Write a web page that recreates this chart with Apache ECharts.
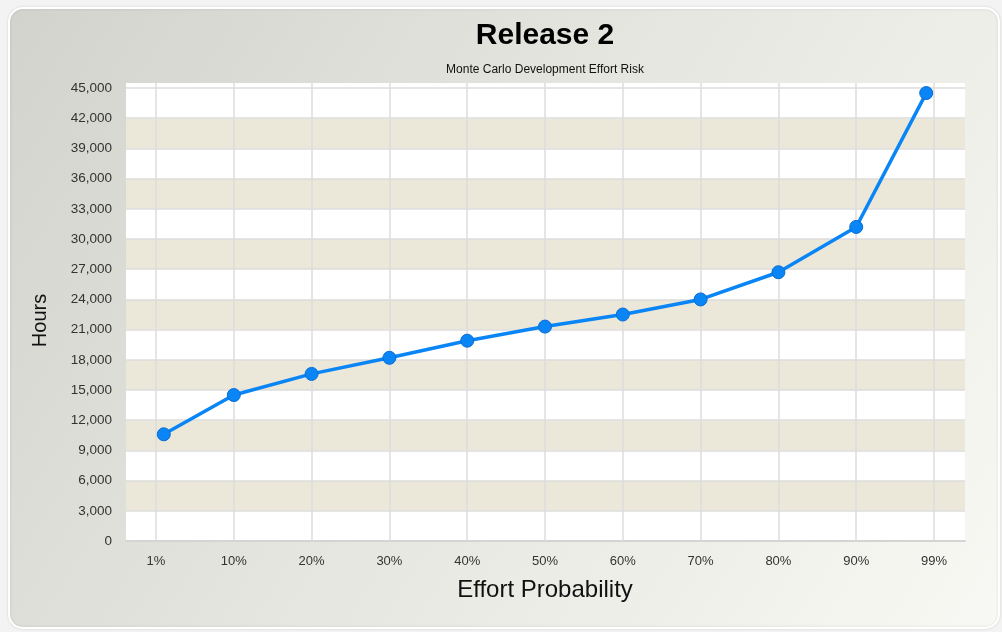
<!DOCTYPE html>
<html>
<head>
<meta charset="utf-8">
<title>Release 2</title>
<script src="https://cdn.jsdelivr.net/npm/echarts@6/dist/echarts.min.js"></script>
<style>
  html, body { margin: 0; padding: 0; background: #f3f3f3; }
  #chart { width: 1002px; height: 632px; }
</style>
</head>
<body>
<div id="chart"></div>
<script>
// Effort percentile labels, one per slot on the x axis
const categories = ['1%', '10%', '20%', '30%', '40%', '50%', '60%', '70%', '80%', '90%', '99%'];
// Percentile value of each simulated point
const probabilities = [1, 10, 20, 30, 40, 50, 60, 70, 80, 90, 99];
// Simulated effort in hours at each percentile
const hours = [10600, 14500, 16600, 18200, 19900, 21300, 22500, 24000, 26700, 31200, 44500];
// Label slots along the x axis (one every 10 units)
const slotValues = [0, 10, 20, 30, 40, 50, 60, 70, 80, 90, 100];

const labelFont = 'Liberation Sans, Arial, sans-serif';
const chart = echarts.init(document.getElementById('chart'), null, { renderer: 'canvas' });

const option = {
  backgroundColor: 'transparent',
  animation: false,
  graphic: [{
    type: 'rect',
    z: -10,
    shape: { x: 9, y: 8, width: 990, height: 620, r: 14 },
    style: {
      fill: new echarts.graphic.LinearGradient(0, 0, 1, 1, [
        { offset: 0, color: '#d2d3cd' },
        { offset: 0.5, color: '#e7e7e1' },
        { offset: 1, color: '#f8f8f4' }
      ]),
      stroke: '#ffffff',
      lineWidth: 2,
      shadowBlur: 3,
      shadowColor: 'rgba(0,0,0,0.12)'
    }
  }],
  title: [{
    text: 'Release 2',
    left: 545,
    top: 21,
    padding: 0,
    textAlign: 'center',
    textStyle: { fontFamily: labelFont, fontSize: 30, fontWeight: 'bold', color: '#000' }
  }, {
    text: 'Monte Carlo Development Effort Risk',
    left: 545,
    top: 64,
    padding: 0,
    textAlign: 'center',
    textStyle: { fontFamily: labelFont, fontSize: 12, fontWeight: 'normal', color: '#111' }
  }],
  grid: [
    // white plot backdrop
    { left: 126, right: 37, top: 83, bottom: 91, show: true, backgroundColor: '#ffffff', borderWidth: 0, z: -2 },
    // banded value scale
    { left: 126, right: 37, top: 88, bottom: 91 },
    // data area
    { left: 156, right: 68, top: 83, bottom: 91 }
  ],
  xAxis: [{
    gridIndex: 0, type: 'value', min: 0, max: 1, show: false
  }, {
    gridIndex: 1, type: 'value', min: 0, max: 1, z: -1,
    axisLine: { show: true, lineStyle: { color: '#d4d4d4', width: 2 } },
    axisTick: { show: false }, axisLabel: { show: false }, splitLine: { show: false }
  }, {
    gridIndex: 2, type: 'value', min: slotValues[0], max: slotValues[slotValues.length - 1], interval: 10,
    axisLine: { show: false }, axisTick: { show: false },
    axisLabel: {
      margin: 14,
      fontFamily: labelFont, fontSize: 13, color: '#333',
      formatter: v => categories[slotValues.indexOf(v)] || ''
    },
    splitLine: { show: true, lineStyle: { color: '#dcdcdc', width: 1.5 } },
    name: 'Effort Probability',
    nameLocation: 'middle',
    nameGap: 37,
    nameTextStyle: { fontFamily: labelFont, fontSize: 24, color: '#111' }
  }],
  yAxis: [{
    gridIndex: 0, type: 'value', min: 0, max: 1, show: false
  }, {
    gridIndex: 1, type: 'value', min: 0, max: 45000, interval: 3000, z: -1,
    axisLine: { show: false }, axisTick: { show: false },
    axisLabel: {
      margin: 14,
      fontFamily: labelFont, fontSize: 13.5, color: '#333',
      formatter: v => v.toLocaleString('en-US')
    },
    splitLine: { show: true, lineStyle: { color: '#dcdcdc', width: 1.5 } },
    splitArea: { show: true, areaStyle: { color: ['#ffffff', '#ebe8da'] } },
    name: 'Hours',
    nameLocation: 'middle',
    nameRotate: 90,
    nameGap: 76,
    nameTextStyle: { fontFamily: labelFont, fontSize: 20, color: '#111', padding: [0, 12, 0, 0] }
  }, {
    gridIndex: 2, type: 'value', min: 0, max: 45500, show: false
  }],
  series: [{
    type: 'line',
    xAxisIndex: 2,
    yAxisIndex: 2,
    data: probabilities.map((p, i) => [p, hours[i]]),
    symbol: 'circle',
    symbolSize: 13,
    lineStyle: { color: '#0a85f5', width: 3.5 },
    itemStyle: { color: '#0a85f5', borderColor: '#0a6cd4', borderWidth: 1 },
    z: 3
  }]
};

chart.setOption(option);
</script>
</body>
</html>
